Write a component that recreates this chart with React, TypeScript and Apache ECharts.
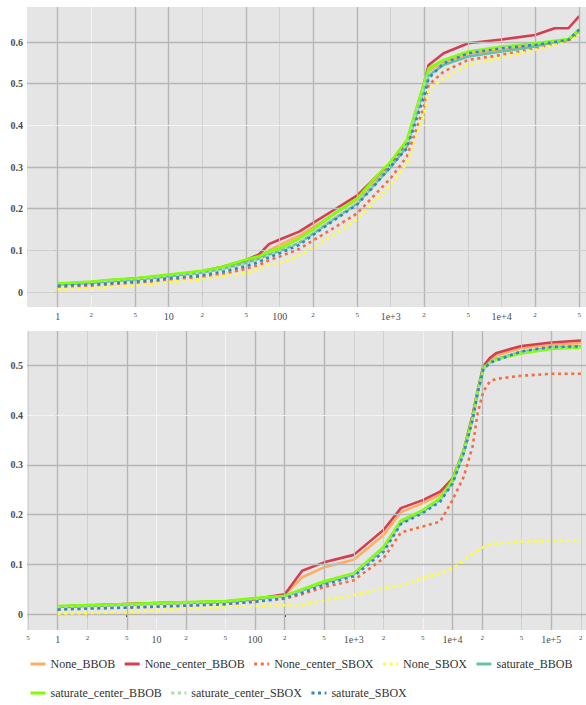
import React, { useEffect, useRef } from "react";
import * as echarts from "echarts";

// ---------- series identity ----------
const seriesNames = [
  "None_BBOB",
  "None_center_BBOB",
  "None_center_SBOX",
  "None_SBOX",
  "saturate_BBOB",
  "saturate_center_BBOB",
  "saturate_center_SBOX",
  "saturate_SBOX",
];
const seriesColors = ["#FDAE61", "#D53E4F", "#F46D43", "#FFFF33", "#66C2A5", "#7FFF00", "#ABDDA4", "#3288BD"];
const seriesDotted = [false, false, true, true, false, false, true, true];

// ---------- top panel data ----------
const topBudgets = [1, 2, 3, 5, 7, 10, 20, 30, 50, 65, 80, 100, 150, 200, 300, 500, 700, 1000, 1400, 2000, 2200, 3000, 5000, 10000, 20000, 30000, 40000, 50000];
const topNoneBBOB = [0.019, 0.024, 0.028, 0.032, 0.036, 0.040, 0.050, 0.058, 0.075, 0.085, 0.100, 0.113, 0.135, 0.155, 0.185, 0.222, 0.262, 0.300, 0.350, 0.490, 0.530, 0.552, 0.572, 0.582, 0.592, 0.600, 0.606, 0.628];
const topNoneCenterBBOB = [0.019, 0.024, 0.028, 0.032, 0.036, 0.040, 0.050, 0.060, 0.077, 0.090, 0.115, 0.126, 0.145, 0.166, 0.195, 0.232, 0.270, 0.309, 0.360, 0.500, 0.545, 0.573, 0.597, 0.606, 0.617, 0.633, 0.633, 0.662];
const topNoneCenterSBOX = [0.012, 0.015, 0.018, 0.022, 0.025, 0.028, 0.035, 0.042, 0.056, 0.065, 0.076, 0.085, 0.103, 0.124, 0.152, 0.189, 0.230, 0.273, 0.325, 0.445, 0.497, 0.529, 0.557, 0.569, 0.585, 0.596, 0.603, 0.621];
const topNoneSBOX = [0.006, 0.009, 0.012, 0.016, 0.019, 0.024, 0.031, 0.038, 0.046, 0.055, 0.065, 0.069, 0.088, 0.108, 0.135, 0.175, 0.215, 0.257, 0.309, 0.425, 0.485, 0.513, 0.545, 0.563, 0.581, 0.593, 0.602, 0.618];
const topSaturateBBOB = [0.018, 0.022, 0.026, 0.030, 0.034, 0.038, 0.047, 0.055, 0.070, 0.080, 0.090, 0.098, 0.118, 0.140, 0.173, 0.212, 0.255, 0.300, 0.350, 0.488, 0.520, 0.545, 0.565, 0.577, 0.589, 0.600, 0.605, 0.628];
const topSaturateCenterBBOB = [0.020, 0.025, 0.029, 0.033, 0.037, 0.042, 0.051, 0.060, 0.078, 0.086, 0.097, 0.105, 0.128, 0.150, 0.185, 0.225, 0.270, 0.313, 0.365, 0.501, 0.537, 0.557, 0.577, 0.589, 0.597, 0.603, 0.607, 0.630];
const topSaturateCenterSBOX = [0.017, 0.021, 0.025, 0.029, 0.033, 0.037, 0.046, 0.054, 0.068, 0.078, 0.088, 0.097, 0.118, 0.141, 0.175, 0.215, 0.258, 0.305, 0.355, 0.495, 0.525, 0.552, 0.575, 0.588, 0.595, 0.602, 0.606, 0.630];
const topSaturateSBOX = [0.015, 0.018, 0.021, 0.025, 0.028, 0.033, 0.040, 0.048, 0.062, 0.072, 0.083, 0.093, 0.113, 0.137, 0.170, 0.210, 0.253, 0.301, 0.345, 0.469, 0.513, 0.549, 0.573, 0.585, 0.593, 0.600, 0.605, 0.630];

// ---------- bottom panel data ----------
const bottomBudgets = [1, 2, 5, 10, 20, 50, 100, 200, 300, 500, 1000, 2000, 3000, 5000, 7500, 10000, 13000, 16000, 18000, 20500, 24000, 28000, 50000, 100000, 200000];
const bottomNoneBBOB = [0.015, 0.017, 0.020, 0.022, 0.023, 0.025, 0.030, 0.039, 0.074, 0.094, 0.109, 0.159, 0.205, 0.223, 0.240, 0.268, 0.325, 0.395, 0.447, 0.494, 0.510, 0.520, 0.535, 0.541, 0.545];
const bottomNoneCenterBBOB = [0.015, 0.017, 0.020, 0.022, 0.023, 0.025, 0.030, 0.040, 0.087, 0.104, 0.119, 0.169, 0.213, 0.229, 0.246, 0.272, 0.330, 0.400, 0.450, 0.498, 0.515, 0.525, 0.539, 0.546, 0.550];
const bottomNoneCenterSBOX = [0.010, 0.012, 0.013, 0.015, 0.017, 0.020, 0.025, 0.031, 0.040, 0.054, 0.068, 0.112, 0.164, 0.176, 0.186, 0.229, 0.276, 0.337, 0.404, 0.447, 0.468, 0.473, 0.479, 0.483, 0.483];
const bottomNoneSBOX = [0.001, 0.002, 0.004, 0.008, 0.011, 0.014, 0.016, 0.018, 0.018, 0.028, 0.038, 0.052, 0.057, 0.072, 0.082, 0.092, 0.108, 0.122, 0.128, 0.134, 0.140, 0.142, 0.146, 0.147, 0.148];
const bottomSaturateBBOB = [0.015, 0.017, 0.019, 0.021, 0.023, 0.025, 0.031, 0.036, 0.048, 0.063, 0.080, 0.131, 0.184, 0.206, 0.230, 0.265, 0.325, 0.392, 0.446, 0.492, 0.507, 0.513, 0.527, 0.535, 0.538];
const bottomSaturateCenterBBOB = [0.016, 0.018, 0.020, 0.022, 0.024, 0.026, 0.032, 0.037, 0.050, 0.066, 0.082, 0.135, 0.188, 0.209, 0.233, 0.270, 0.330, 0.395, 0.448, 0.493, 0.506, 0.512, 0.524, 0.533, 0.536];
const bottomSaturateCenterSBOX = [0.013, 0.015, 0.017, 0.019, 0.021, 0.023, 0.028, 0.034, 0.046, 0.061, 0.079, 0.130, 0.183, 0.205, 0.229, 0.264, 0.324, 0.391, 0.445, 0.491, 0.506, 0.512, 0.526, 0.535, 0.537];
const bottomSaturateSBOX = [0.009, 0.011, 0.013, 0.015, 0.017, 0.020, 0.025, 0.032, 0.043, 0.059, 0.076, 0.125, 0.181, 0.203, 0.226, 0.262, 0.323, 0.390, 0.444, 0.491, 0.505, 0.510, 0.528, 0.537, 0.538];

const topValues = [topNoneBBOB, topNoneCenterBBOB, topNoneCenterSBOX, topNoneSBOX, topSaturateBBOB, topSaturateCenterBBOB, topSaturateCenterSBOX, topSaturateSBOX];
const bottomValues = [bottomNoneBBOB, bottomNoneCenterBBOB, bottomNoneCenterSBOX, bottomNoneSBOX, bottomSaturateBBOB, bottomSaturateCenterBBOB, bottomSaturateCenterSBOX, bottomSaturateSBOX];

// ---------- ticks ----------
const topXTicks = [1, 2, 5, 10, 20, 50, 100, 200, 500, 1000, 2000, 5000, 10000, 20000, 50000];
const bottomXTicks = [0.5, 1, 2, 5, 10, 20, 50, 100, 200, 500, 1000, 2000, 5000, 10000, 20000, 50000, 100000, 200000];
const topYTicks = [0, 0.1, 0.2, 0.3, 0.4, 0.5, 0.6];
const bottomYTicks = [0, 0.1, 0.2, 0.3, 0.4, 0.5];

// gridline tones (d = dark gray, l = light gray, w = whitish), aligned with tick lists
const topXTones = ["d", "w", "d", "d", "l", "d", "l", "d", "d", "l", "d", "l", "l", "d", "d"];
const bottomXTones = ["l", "d", "l", "d", "w", "d", "w", "d", "d", "d", "l", "l", "w", "d", "d", "l", "d", "l"];
const topYTones = ["l", "l", "d", "d", "w", "d", "d"];
const bottomYTones = ["d", "d", "d", "d", "w", "d"];

const FONT = "'Liberation Serif', 'Times New Roman', serif";

function toneStyle(t: string) {
  if (t === "d") return { color: "#b6b6b6", width: 1.4, type: "solid" };
  if (t === "l") return { color: "#cdcdcd", width: 0.9, type: "solid" };
  return { color: "#f4f4f4", width: 0.9, type: "solid" };
}

function xLabel(v: number) {
  const raw = Math.pow(10, v);
  const exp = Math.floor(v + 1e-9);
  const mant = Math.round(raw / Math.pow(10, exp));
  if (mant === 1) {
    const txt = exp >= 0 && exp <= 2 ? String(Math.round(raw)) : "1e+" + exp;
    return "{big|" + txt + "}";
  }
  return "{small|" + mant + "}";
}

function makeXAxis(grid: number, ticks: number[], min: number, max: number) {
  const cv = ticks.map((t) => Math.log10(t));
  return {
    type: "value",
    gridIndex: grid,
    min,
    max,
    axisLine: { show: false },
    splitLine: { show: false },
    axisTick: { show: true, customValues: cv, length: 3, lineStyle: { color: "#333", width: 1 } },
    axisLabel: {
      show: true,
      customValues: cv,
      margin: 4,
      fontFamily: FONT,
      formatter: xLabel,
      rich: {
        big: { fontFamily: FONT, fontSize: 10, color: "#4d4d4d" },
        small: { fontFamily: FONT, fontSize: 7, color: "#4d4d4d" },
      },
    },
  };
}

function makeYAxis(grid: number, ticks: number[], min: number, max: number) {
  return {
    type: "value",
    gridIndex: grid,
    min,
    max,
    axisLine: { show: false },
    splitLine: { show: false },
    axisTick: { show: true, customValues: ticks, length: 3, lineStyle: { color: "#333", width: 1 } },
    axisLabel: {
      show: true,
      customValues: ticks,
      margin: 4,
      fontFamily: FONT,
      fontSize: 10,
      fontWeight: "bold",
      color: "#4d4d4d",
      formatter: (v: number) => (Math.abs(v) < 1e-9 ? "0" : v.toFixed(1)),
    },
  };
}

function gridHelper(grid: number, xTicks: number[], xTones: string[], yTicks: number[], yTones: string[]) {
  const data: any[] = [];
  xTicks.forEach((t, i) => data.push({ xAxis: Math.log10(t), lineStyle: toneStyle(xTones[i]) }));
  yTicks.forEach((t, i) => data.push({ yAxis: t, lineStyle: toneStyle(yTones[i]) }));
  return {
    type: "line",
    name: "__grid" + grid,
    xAxisIndex: grid,
    yAxisIndex: grid,
    data: [],
    silent: true,
    z: 1,
    markLine: { silent: true, symbol: ["none", "none"], label: { show: false }, animation: false, data },
  };
}

function makeSeries(grid: number, budgets: number[], values: number[][]) {
  return seriesNames.map((name, k) => ({
    type: "line",
    name,
    xAxisIndex: grid,
    yAxisIndex: grid,
    symbol: "none",
    showSymbol: false,
    z: 3 + k,
    data: budgets.map((b, i) => [Math.log10(b), values[k][i]]),
    lineStyle: {
      color: seriesColors[k],
      width: 2.6,
      type: seriesDotted[k] ? [3, 3.6] : "solid",
      cap: "butt",
      join: "round",
    },
    itemStyle: { color: seriesColors[k] },
  }));
}

export default function App() {
  const ref = useRef<HTMLDivElement>(null);
  useEffect(() => {
    if (!ref.current) return;
    const chart = echarts.init(ref.current, undefined, { renderer: "svg" });
    const legendText = { fontFamily: FONT, fontSize: 12, color: "#333" };
    const legendCommon = {
      left: 29,
      padding: 0,
      itemWidth: 15,
      itemHeight: 8,
      itemGap: 8,
      width: 580,
      textStyle: legendText,
      itemStyle: { opacity: 0 },
      lineStyle: { width: 3 },
    };
    chart.setOption({
      animation: false,
      backgroundColor: "#ffffff",
      grid: [
        { left: 27, right: 0, top: 7, height: 300, backgroundColor: "#e5e5e5", show: true, borderWidth: 0 },
        { left: 27, right: 0, top: 331, height: 299, backgroundColor: "#e5e5e5", show: true, borderWidth: 0 },
      ],
      xAxis: [makeXAxis(0, topXTicks, -0.277, 4.76), makeXAxis(1, bottomXTicks, -0.311, 5.353)],
      yAxis: [makeYAxis(0, topYTicks, -0.036, 0.684), makeYAxis(1, bottomYTicks, -0.032, 0.569)],
      legend: [
        { ...legendCommon, top: 658, data: seriesNames.slice(0, 5) },
        { ...legendCommon, top: 687, data: seriesNames.slice(5) },
      ],
      series: [
        gridHelper(0, topXTicks, topXTones, topYTicks, topYTones),
        gridHelper(1, bottomXTicks, bottomXTones, bottomYTicks, bottomYTones),
        ...makeSeries(0, topBudgets, topValues),
        ...makeSeries(1, bottomBudgets, bottomValues),
      ],
    });
    return () => chart.dispose();
  }, []);
  return (
    <div
      ref={ref}
      style={{ position: "fixed", left: 0, top: 0, width: 586, height: 705, background: "#fff" }}
    />
  );
}
